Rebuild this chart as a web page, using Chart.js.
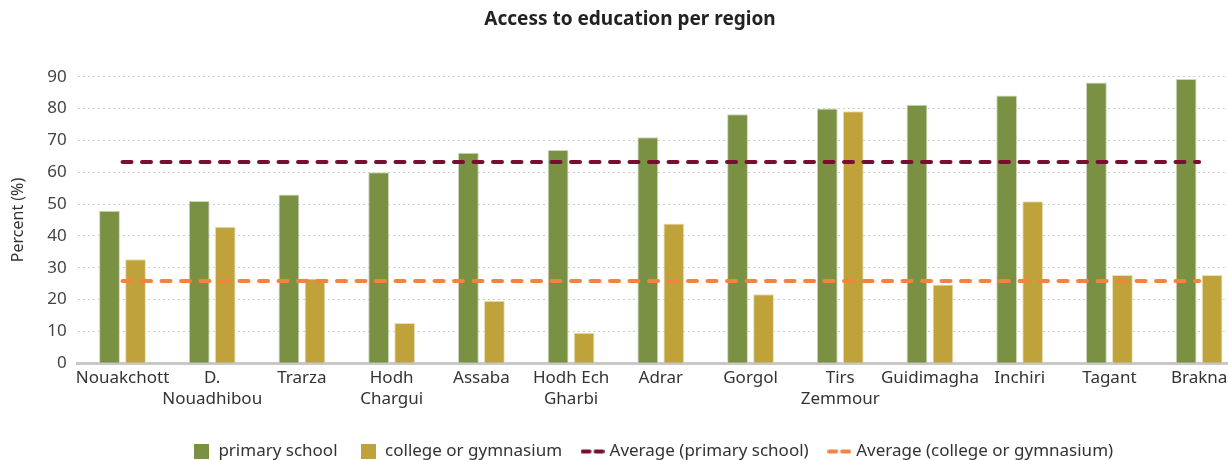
<!DOCTYPE html>
<html>
<head>
<meta charset="utf-8">
<script src="https://cdn.jsdelivr.net/npm/chart.js@4/dist/chart.umd.min.js"></script>
<style>
  html, body { margin: 0; padding: 0; background: #fff; overflow: hidden; }
  #wrap { width: 1256px; height: 460px; position: relative; }
</style>
</head>
<body>
<div id="wrap"><canvas id="c"></canvas></div>
<script>
const categories = [
  "Nouakchott", ["D.", "Nouadhibou"], "Trarza", ["Hodh", "Chargui"], "Assaba",
  ["Hodh Ech", "Gharbi"], "Adrar", "Gorgol", ["Tirs", "Zemmour"], "Guidimagha",
  "Inchiri", "Tagant", "Brakna"
];
const primarySchool = [47.9, 51, 53, 60, 66.1, 67, 71, 78.2, 80, 81.2, 84.1, 88.2, 89.3];
const collegeGymnasium = [32.7, 42.9, 26.6, 12.6, 19.6, 9.6, 43.9, 21.7, 79.2, 24.7, 50.9, 27.7, 27.7];
const avgPrimary = [63.2, 63.2, 63.2, 63.2, 63.2, 63.2, 63.2, 63.2, 63.2, 63.2, 63.2, 63.2, 63.2];
const avgCollege = [25.8, 25.8, 25.8, 25.8, 25.8, 25.8, 25.8, 25.8, 25.8, 25.8, 25.8, 25.8, 25.8];
const yTicks = [0, 10, 20, 30, 40, 50, 60, 70, 80, 90];

const GREEN = "#7a9143", GOLD = "#bfa33a", MAROON = "#7a0e30", ORANGE = "#f5833f";
const FONT = "'Noto Sans'";

function squareIcon(color) {
  const c = document.createElement("canvas");
  c.width = 15; c.height = 15;
  const g = c.getContext("2d");
  g.fillStyle = color; g.fillRect(0, 0, 15, 15);
  return c;
}
function dashIcon(color) {
  const c = document.createElement("canvas");
  c.width = 24; c.height = 6;
  const g = c.getContext("2d");
  g.strokeStyle = color; g.lineWidth = 4; g.lineCap = "round";
  g.beginPath(); g.moveTo(2, 3); g.lineTo(9, 3); g.moveTo(15, 3); g.lineTo(22, 3); g.stroke();
  return c;
}
const icons = [squareIcon(GREEN), squareIcon(GOLD), dashIcon(MAROON), dashIcon(ORANGE)];

const headerShift = {
  id: "headerShift",
  afterLayout(chart) {
    if (chart.legend) { chart.legend.left += 31; chart.legend.right += 31; }
    if (chart.titleBlock) { chart.titleBlock.left += 8; chart.titleBlock.right += 8; }
  }
};

new Chart(document.getElementById("c"), {
  plugins: [headerShift],
  data: {
    labels: categories,
    datasets: [
      { type: "bar", label: "primary school", data: primarySchool, backgroundColor: GREEN,
        borderColor: "rgba(200,210,180,0.9)", borderWidth: 1, categoryPercentage: 0.58, barPercentage: 0.8, order: 2 },
      { type: "bar", label: "college or gymnasium", data: collegeGymnasium, backgroundColor: GOLD,
        borderColor: "rgba(230,220,180,0.9)", borderWidth: 1, categoryPercentage: 0.58, barPercentage: 0.8, order: 2 },
      { type: "line", label: "Average (primary school)", data: avgPrimary, borderColor: MAROON,
        borderWidth: 4, borderDash: [9, 10.5], borderCapStyle: "round", pointRadius: 0, fill: false, order: 1 },
      { type: "line", label: "Average (college or gymnasium)", data: avgCollege, borderColor: ORANGE,
        borderWidth: 4, borderDash: [9, 10.5], borderCapStyle: "round", pointRadius: 0, fill: false, order: 1 }
    ]
  },
  options: {
    responsive: true,
    maintainAspectRatio: false,
    animation: false,
    layout: { padding: { left: 0, right: 12, top: 0, bottom: -10 } },
    plugins: {
      title: {
        display: true, text: "Access to education per region", color: "#222",
        font: { family: FONT, size: 19, weight: "bold" }, padding: { top: 8, bottom: 46 }
      },
      legend: {
        position: "bottom",
        labels: {
          usePointStyle: true, color: "#333", padding: 22,
          font: { family: FONT, size: 17 },
          generateLabels(chart) {
            return chart.data.datasets.map((ds, i) => ({
              text: ds.label, pointStyle: icons[i], datasetIndex: i,
              hidden: !chart.isDatasetVisible(i), fontColor: "#333", lineWidth: 0
            }));
          }
        }
      },
      tooltip: { enabled: false }
    },
    scales: {
      x: {
        grid: { display: false },
        border: { display: true, color: "#c8c8c8", width: 3 },
        afterFit(axis) { axis.height += 15; },
        ticks: { color: "#333", font: { family: FONT, size: 17, lineHeight: 1.2 }, maxRotation: 0, autoSkip: false, padding: -3 }
      },
      y: {
        min: 0, max: 90,
        afterBuildTicks(axis) { axis.ticks = yTicks.map(v => ({ value: v })); },
        grid: { color: "#cfcfcf", drawTicks: false, lineWidth: 1 },
        border: { display: false, dash: [2, 3] },
        ticks: { color: "#444", font: { family: FONT, size: 17 }, padding: 11 },
        title: { display: true, text: "Percent (%)", color: "#333", font: { family: FONT, size: 16 }, padding: { top: 9, bottom: 8 } }
      }
    }
  }
});
</script>
</body>
</html>
